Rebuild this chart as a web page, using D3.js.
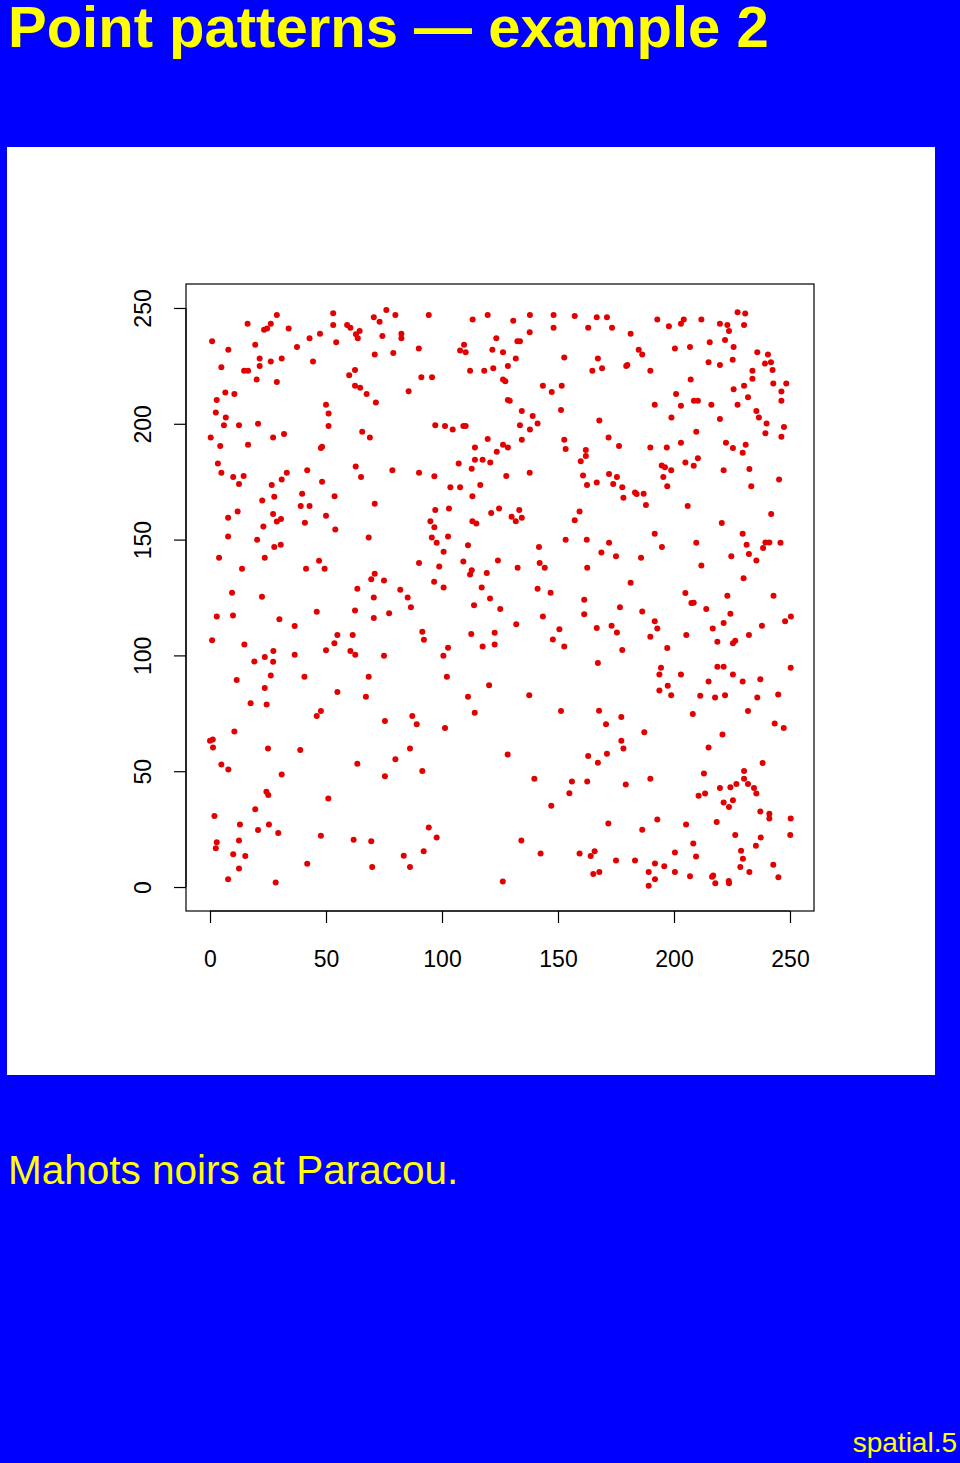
<!DOCTYPE html>
<html>
<head>
<meta charset="utf-8">
<script src="https://cdn.jsdelivr.net/npm/d3@7"></script>
<style>
  html, body { margin: 0; padding: 0; background: #0000ff; }
  svg { display: block; }
</style>
</head>
<body>
<div id="chart"></div>
<script>
const titleText = "Point patterns \u2014 example 2";
const captionText = "Mahots noirs at Paracou.";
const footerText = "spatial.5";
const xTicks = [0, 50, 100, 150, 200, 250];
const yTicks = [0, 50, 100, 150, 200, 250];
const xDomain = [-10.35, 260.35];
const yDomain = [-10.35, 260.35];

// tree locations (x, y) in metres
const treeXY = [
[0.9,235.6],[7.9,232.0],[16.2,243.2],[19.5,234.1],[23.3,240.6],[24.6,241.1],[26.2,243.2],[28.8,247.0],[33.9,241.1],[37.5,233.1],[42.9,236.9],[47.4,238.9],[53.1,247.7],[53.1,242.6],[54.4,235.2],[59.1,242.6],[60.5,241.5],[64.5,240.1],[62.9,238.7],[63.7,236.9],[70.6,246.0],[73.1,244.1],[76.0,249.1],[79.9,247.0],[74.3,237.9],[71.0,229.9],[79.0,230.6],[21.4,228.2],[26.2,226.9],[30.9,228.2],[21.4,225.0],[4.9,224.4],[14.7,222.9],[16.4,222.9],[20.1,219.1],[28.8,218.0],[44.4,226.9],[62.5,223.2],[60.0,221.0],[62.5,216.4],[64.7,215.6],[67.5,212.9],[71.5,209.2],[6.6,213.5],[10.5,212.9],[2.9,210.3],[2.5,204.9],[6.8,202.7],[6.0,199.4],[12.5,199.4],[20.7,200.0],[50.0,208.2],[51.1,204.4],[51.1,199.0],[65.6,196.6],[68.9,194.1],[0.3,194.1],[27.2,194.1],[31.9,195.6],
[82.5,238.9],[82.5,236.9],[94.3,247.0],[90.0,232.5],[91.1,220.1],[95.7,220.1],[85.6,214.1],[113.2,245.0],[119.7,247.0],[130.7,244.5],[137.9,247.0],[148.1,247.0],[148.1,241.5],[157.2,246.5],[166.7,246.0],[171.1,246.0],[163.0,241.5],[173.3,241.5],[137.8,239.5],[123.4,236.9],[132.5,235.6],[133.6,235.6],[109.5,234.1],[107.8,231.6],[110.2,230.9],[121.7,232.0],[126.3,230.9],[131.8,228.2],[152.7,228.6],[167.2,228.2],[169.0,224.0],[164.8,222.9],[128.4,225.0],[122.1,224.0],[118.2,222.9],[112.1,222.9],[126.3,219.1],[127.3,218.4],[143.5,216.4],[151.6,216.4],[147.3,213.7],[128.4,210.3],[129.2,209.9],[134.4,205.5],[139.1,203.4],[141.2,200.1],[133.6,199.4],[137.9,197.5],[151.3,205.9],[167.8,201.4],[171.8,194.1],[97.1,199.4],[101.3,199.0],[104.6,197.5],[109.2,199.0],[110.2,199.0],[119.7,193.4],[134.4,193.1],[152.7,193.1],
[181.3,238.9],[192.8,245.0],[197.8,242.1],[203.0,243.2],[204.2,245.0],[211.8,245.0],[219.8,243.2],[223.0,242.6],[223.7,240.1],[227.4,248.1],[230.7,247.6],[230.2,242.6],[184.8,232.0],[186.3,229.9],[200.4,232.5],[206.9,233.1],[215.4,235.2],[222.0,236.2],[225.7,233.1],[179.4,224.9],[179.9,225.4],[189.8,222.9],[214.9,226.6],[219.8,225.4],[225.3,227.6],[235.9,230.9],[240.5,229.9],[239.2,226.0],[241.8,226.6],[242.5,223.2],[233.8,222.9],[233.8,219.4],[242.8,217.4],[248.4,217.4],[230.2,216.4],[225.7,214.9],[207.2,219.1],[200.9,212.9],[208.6,209.9],[210.3,209.9],[203.0,207.8],[191.7,208.2],[216.1,208.2],[227.4,208.2],[231.9,211.5],[246.3,213.9],[246.3,209.9],[235.5,205.5],[236.6,202.7],[239.9,200.1],[247.4,198.6],[239.4,195.9],[246.3,194.4],[198.9,202.7],[219.8,202.1],[209.6,196.6],
[4.4,190.4],[16.4,190.9],[47.8,189.5],[48.3,190.1],[3.4,182.9],[4.9,178.9],[10.0,177.0],[14.5,177.5],[12.5,174.0],[33.1,178.9],[30.9,175.9],[26.6,173.6],[41.9,179.9],[48.3,175.0],[22.5,166.9],[27.7,168.5],[39.7,169.8],[53.7,168.7],[39.1,164.5],[42.9,164.5],[11.9,162.1],[7.8,159.4],[27.2,161.1],[28.8,157.8],[30.6,158.9],[50.0,160.3],[40.9,157.3],[23.0,155.7],[54.0,154.4],[7.8,151.3],[20.3,149.9],[27.7,146.8],[30.5,147.8],[3.9,142.2],[23.6,142.2],[13.8,137.4],[41.4,137.4],[47.0,140.9],[49.4,137.4],[9.5,127.0],[22.4,125.3],[62.8,181.6],[65.1,177.0],[78.6,179.9],[71.0,165.5],[68.4,150.9],[71.0,135.3],[69.5,132.9],[75.0,132.3],[63.5,128.8],[70.6,125.0],
[82.0,128.3],[85.2,125.0],[90.1,178.9],[96.7,177.3],[103.6,172.6],[107.8,172.6],[107.2,182.9],[112.8,180.6],[114.2,189.8],[114.2,184.5],[117.5,184.5],[120.8,183.3],[123.6,187.9],[126.3,190.9],[128.4,189.8],[116.5,173.6],[127.7,177.5],[137.8,178.9],[113.1,168.7],[97.1,162.8],[103.0,163.4],[95.0,157.9],[96.7,155.3],[113.1,157.9],[114.8,156.9],[121.2,161.5],[124.6,163.4],[130.0,159.9],[133.3,162.8],[134.4,159.4],[131.8,157.9],[95.6,150.9],[97.7,148.6],[102.6,151.3],[100.7,144.8],[111.2,147.6],[90.1,139.9],[98.8,138.4],[109.2,140.5],[112.8,136.8],[112.1,134.9],[119.3,135.6],[124.1,141.0],[132.6,137.8],[96.6,131.8],[100.7,129.3],[117.1,129.3],[120.7,124.6],[141.8,146.8],[142.1,139.9],[144.3,137.8],[141.2,128.8],[146.8,127.0],[153.3,189.1],[162.0,188.7],[162.0,186.1],[159.8,183.8],[160.8,177.7],[162.5,173.6],[166.7,174.6],[172.0,178.3],[159.3,162.1],[157.2,158.3],[153.3,149.9],[162.4,149.9],[172.0,148.6],[168.7,144.4],[162.6,137.8],[161.3,124.0],
[176.3,190.4],[189.8,189.8],[196.9,189.8],[203.0,191.8],[222.4,191.8],[225.4,189.5],[230.9,190.9],[229.6,187.5],[194.7,182.0],[196.1,181.2],[198.8,179.9],[195.4,177.0],[197.1,173.0],[204.9,183.3],[208.5,181.9],[210.3,185.1],[221.4,179.9],[232.5,180.5],[233.3,173.0],[245.3,175.9],[175.4,177.0],[173.8,174.0],[177.7,172.6],[178.2,168.1],[183.2,170.3],[183.9,169.7],[186.9,169.8],[187.9,164.9],[205.9,164.5],[241.9,161.1],[220.6,157.2],[191.7,152.5],[194.8,146.8],[209.6,148.6],[175.0,142.8],[185.8,142.2],[211.8,138.8],[224.7,142.8],[229.6,152.5],[231.3,147.8],[232.3,143.8],[235.5,141.0],[238.4,146.4],[239.4,148.7],[241.1,148.7],[245.9,148.6],[230.0,133.3],[181.3,131.4],[204.9,126.9],[223.0,125.8],[242.9,125.8],
[2.9,116.8],[9.9,117.2],[29.9,115.6],[36.5,112.7],[46.0,118.8],[62.5,119.4],[70.6,116.1],[77.2,118.2],[0.9,106.5],[14.8,104.7],[27.3,101.9],[23.6,99.3],[19.1,97.4],[27.2,97.3],[36.5,100.3],[54.9,108.8],[61.5,108.8],[53.6,105.3],[50.0,102.2],[60.5,101.9],[62.6,100.3],[75.0,99.9],[11.5,89.4],[26.2,91.3],[40.7,90.8],[23.6,85.9],[17.5,79.3],[24.4,78.8],[54.9,84.2],[68.4,90.8],[67.2,82.2],[47.8,76.0],[46.0,73.8],[75.4,71.7],[10.5,67.2],[0.0,63.2],[1.2,63.7],[1.3,60.2],[25.0,59.8],[38.9,59.2],
[86.6,120.8],[113.8,121.7],[125.1,120.0],[161.3,117.8],[91.5,110.2],[92.2,106.8],[102.6,103.3],[100.6,99.9],[112.6,109.2],[122.7,109.8],[117.5,103.8],[122.7,104.7],[132.0,113.4],[143.5,116.8],[150.6,111.3],[147.8,106.9],[152.7,103.8],[166.7,111.8],[167.2,96.7],[102.1,90.8],[120.3,87.1],[111.2,82.2],[137.6,82.8],[151.3,76.0],[87.2,73.8],[89.1,70.3],[101.3,68.7],[114.1,75.2],[167.7,76.1],[170.7,70.3],[86.2,59.8],[128.3,57.2],
[207.5,122.6],[208.5,122.7],[176.7,120.8],[186.3,119.0],[191.7,114.7],[192.8,111.6],[189.8,108.1],[213.9,120.0],[224.3,118.0],[221.4,114.0],[216.7,111.6],[205.3,108.8],[218.7,105.9],[225.4,105.3],[226.4,106.3],[232.3,108.8],[237.9,112.8],[247.9,114.7],[250.4,116.8],[173.1,112.8],[175.4,109.9],[177.7,102.3],[197.1,103.2],[194.4,94.7],[193.7,91.8],[203.0,91.8],[197.3,86.9],[193.7,84.8],[198.8,82.8],[218.7,95.1],[221.4,95.1],[214.9,88.7],[225.4,91.8],[229.6,88.7],[237.2,89.7],[250.3,94.7],[211.3,82.6],[217.7,81.8],[222.0,82.8],[235.9,81.8],[244.9,83.1],[231.9,76.0],[208.1,74.7],[177.3,73.4],[187.2,66.8],[220.9,65.8],[243.4,70.6],[247.3,68.7],[177.3,63.2],[178.2,59.8],[214.9,60.2],
[4.9,52.9],[7.9,50.7],[30.9,48.6],[24.3,41.1],[25.1,39.7],[51.0,38.2],[19.5,33.6],[1.9,30.7],[12.9,27.0],[25.4,27.0],[20.7,24.6],[29.4,23.3],[47.8,22.1],[61.9,20.4],[69.5,19.8],[2.9,19.3],[2.5,16.7],[12.5,20.1],[10.0,14.1],[15.2,13.4],[12.5,8.0],[7.8,3.4],[28.3,2.0],[41.9,10.0],[69.9,8.6],[63.5,53.2],[75.4,47.8],[79.9,55.2],
[91.5,50.1],[139.8,46.7],[156.0,45.6],[162.6,45.6],[154.9,40.5],[147.1,35.1],[163.0,56.6],[167.2,53.7],[171.1,57.5],[171.7,27.4],[94.3,25.7],[97.7,21.4],[92.1,15.5],[83.5,13.5],[86.2,8.6],[134.2,20.1],[142.5,14.5],[126.2,2.4],[159.3,14.5],[165.8,15.5],[164.1,13.4],[165.2,5.6],[167.8,6.5],
[179.2,44.3],[189.8,46.7],[212.9,49.0],[210.6,39.4],[213.4,40.4],[219.8,42.7],[224.3,43.1],[226.9,44.5],[230.2,50.1],[230.2,46.8],[231.9,44.5],[234.5,42.7],[235.5,40.4],[238.2,53.6],[221.4,36.5],[223.7,34.6],[225.4,37.5],[237.2,32.6],[241.1,31.6],[241.1,29.6],[250.3,29.6],[250.1,22.5],[237.4,21.4],[235.3,17.8],[226.4,22.5],[218.4,28.1],[205.2,27.0],[192.8,29.2],[186.3,24.7],[208.3,18.8],[209.5,13.2],[200.4,14.9],[175.0,11.5],[183.2,11.5],[191.8,10.2],[195.8,9.0],[189.1,6.5],[191.8,3.4],[189.1,0.6],[200.4,6.5],[206.9,4.6],[216.9,5.0],[216.4,4.4],[217.8,1.6],[223.6,2.6],[223.7,1.6],[228.9,15.7],[229.7,12.2],[228.6,8.6],[232.5,6.5],[242.8,9.6],[245.0,4.2]
];

const W = 960, H = 1463;
const font = "'Liberation Sans', Arial, Helvetica, sans-serif";
const svg = d3.select("#chart").append("svg")
  .attr("width", W).attr("height", H)
  .attr("font-family", font);

svg.append("rect").attr("width", W).attr("height", H).attr("fill", "#0000ff");
svg.append("rect").attr("x", 7).attr("y", 147).attr("width", 928).attr("height", 928).attr("fill", "#ffffff");

svg.append("text").attr("x", 8).attr("y", 47)
  .attr("font-size", 58).attr("font-weight", "bold").attr("fill", "#ffff00")
  .text(titleText);
svg.append("text").attr("x", 8).attr("y", 1184)
  .attr("font-size", 40.5).attr("fill", "#ffff00")
  .text(captionText);
svg.append("text").attr("x", 957).attr("y", 1452).attr("text-anchor", "end")
  .attr("font-size", 28).attr("fill", "#ffff00")
  .text(footerText);

const x = d3.scaleLinear().domain(xDomain).range([186, 814]);
const y = d3.scaleLinear().domain(yDomain).range([911, 284]);

// box
svg.append("rect")
  .attr("x", x(xDomain[0])).attr("y", y(yDomain[1]))
  .attr("width", x(xDomain[1]) - x(xDomain[0]))
  .attr("height", y(yDomain[0]) - y(yDomain[1]))
  .attr("fill", "none").attr("stroke", "#000").attr("stroke-width", 1.2);

// x axis
const xAxis = d3.axisBottom(x).tickValues(xTicks).tickSize(12).tickPadding(0).tickFormat(d3.format("d"));
const gx = svg.append("g").attr("transform", `translate(0,${y(yDomain[0])})`).call(xAxis);
gx.select(".domain").attr("d", `M${x(xTicks[0])},0H${x(xTicks[xTicks.length-1])}`).attr("stroke", "#000").attr("stroke-width", 1.2);
gx.selectAll(".tick line").attr("stroke", "#000").attr("stroke-width", 1.2);
gx.selectAll(".tick text").attr("font-size", 23).attr("font-family", font).attr("fill", "#000")
  .attr("dy", null).attr("y", 56);

// y axis
const yAxis = d3.axisLeft(y).tickValues(yTicks).tickSize(12).tickPadding(0).tickFormat(d3.format("d"));
const gy = svg.append("g").attr("transform", `translate(${x(xDomain[0])},0)`).call(yAxis);
gy.select(".domain").attr("d", `M0,${y(yTicks[0])}V${y(yTicks[yTicks.length-1])}`).attr("stroke", "#000").attr("stroke-width", 1.2);
gy.selectAll(".tick line").attr("stroke", "#000").attr("stroke-width", 1.2);
gy.selectAll(".tick text").attr("font-size", 23).attr("font-family", font).attr("fill", "#000")
  .attr("x", null).attr("dy", null).attr("text-anchor", "middle")
  .attr("transform", "translate(-35,0) rotate(-90)");

// points
svg.append("g").selectAll("circle").data(treeXY).join("circle")
  .attr("cx", d => x(d[0])).attr("cy", d => y(d[1]))
  .attr("r", 3).attr("fill", "#e30000");
</script>
</body>
</html>
